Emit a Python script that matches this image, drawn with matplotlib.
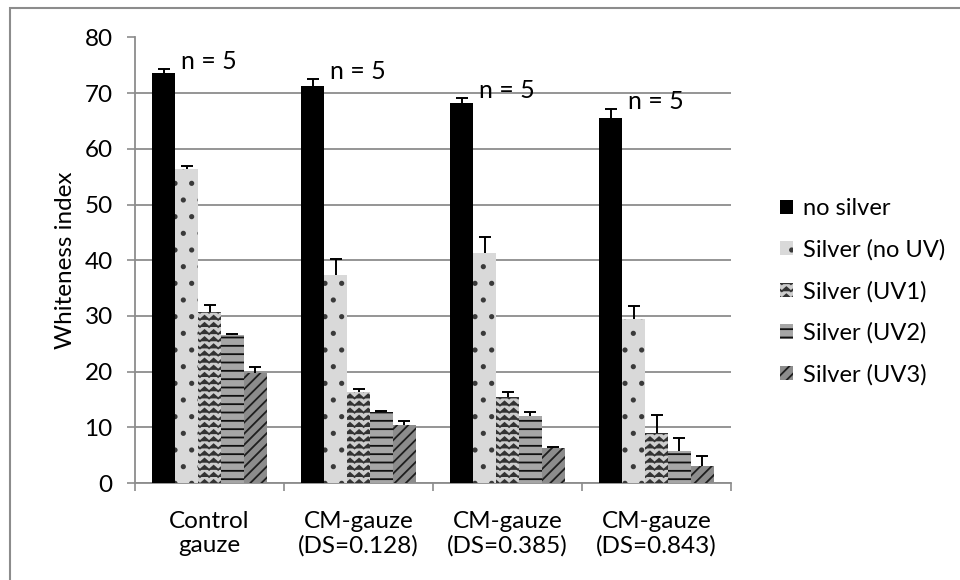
import warnings
import numpy as np
import matplotlib
matplotlib.use("Agg")
import matplotlib.pyplot as plt
from matplotlib import hatch as mhatch
from matplotlib.path import Path
from matplotlib.patches import Rectangle

warnings.filterwarnings("ignore")

# muestras
grupos = ["Control\ngauze", "CM-gauze\n(DS=0.128)", "CM-gauze\n(DS=0.385)", "CM-gauze\n(DS=0.843)"]
series = ["no silver", "Silver (no UV)", "Silver (UV1)", "Silver (UV2)", "Silver (UV3)"]

# indice de blancura (media) por serie, un valor por grupo
no_silver = [73.7, 71.3, 68.2, 65.5]
silver_no_uv = [56.4, 37.4, 41.3, 29.5]
silver_uv1 = [30.7, 16.3, 15.5, 9.0]
silver_uv2 = [26.5, 12.8, 12.0, 5.8]
silver_uv3 = [19.8, 10.5, 6.3, 3.1]

# desviacion (solo hacia arriba)
err_no_silver = [0.7, 1.2, 0.9, 1.7]
err_no_uv = [0.6, 2.8, 2.9, 2.3]
err_uv1 = [1.2, 0.6, 0.8, 3.3]
err_uv2 = [0.3, 0.2, 0.7, 2.2]
err_uv3 = [1.1, 0.7, 0.2, 1.8]

etiqueta_n = "n = 5"


# trama en zigzag para UV1 (no existe en matplotlib)
class ZigZagHatch(mhatch.HatchPatternBase):
    filas = 14
    periodos = 11
    amp = 0.02

    def __init__(self, hatch, density):
        self.num_rows = hatch.count('z') * self.filas
        self.num_vertices = self.num_rows * (2 * self.periodos + 1)

    def set_vertices_and_codes(self, vertices, codes):
        n = 2 * self.periodos + 1
        xs = np.linspace(0.0, 1.0, n)
        dy = np.where(np.arange(n) % 2 == 0, -self.amp, self.amp)
        for i in range(self.num_rows):
            y = (i + 0.5) / self.num_rows
            vertices[i * n:(i + 1) * n, 0] = xs
            vertices[i * n:(i + 1) * n, 1] = y + dy
            codes[i * n:(i + 1) * n] = Path.LINETO
            codes[i * n] = Path.MOVETO


mhatch._hatch_types.append(ZigZagHatch)

plt.rcParams['font.family'] = ['Lato', 'DejaVu Sans']
plt.rcParams['font.size'] = 17.5
plt.rcParams['hatch.linewidth'] = 1.3

medias = [no_silver, silver_no_uv, silver_uv1, silver_uv2, silver_uv3]
errores = [err_no_silver, err_no_uv, err_uv1, err_uv2, err_uv3]
fondos = ["#000000", "#d9d9d9", "#cdcdcd", "#a6a6a6", "#8c8c8c"]
tramas = [None, ".", "z", "--", "///"]
lineas = ["#000000", "#3a3a3a", "#333333", "#101010", "#1e1e1e"]

gris = "#8c8c8c"

fig = plt.figure(figsize=(9.6, 5.8), dpi=100)
ax = fig.add_axes([135 / 960, 1 - 483 / 580, 596 / 960, 445.5 / 580])

x = np.arange(len(grupos))
w = 0.154

for i in range(len(series)):
    pos = x + (i - 2) * w
    ax.bar(pos, medias[i], width=w, color=fondos[i], edgecolor=lineas[i],
           hatch=tramas[i], linewidth=0, label=series[i], zorder=3)
    eb = ax.errorbar(pos, medias[i], yerr=[np.zeros(len(grupos)), errores[i]], fmt='none',
                     ecolor='black', elinewidth=1.4, capsize=4.5, capthick=1.4, zorder=4)
    # solo el tope superior
    eb[1][0].set_visible(False)

# etiqueta n = 5 junto a la barra negra
for k in range(len(grupos)):
    ax.annotate(etiqueta_n, xy=(x[k] - 2 * w + w / 2, no_silver[k] + err_no_silver[k]),
                xytext=(4, 0), textcoords='offset points', ha='left', va='baseline',
                fontsize=18, zorder=5)

ax.set_ylim(0, 80)
ax.set_yticks(np.arange(0, 81, 10))
ax.set_xlim(-0.5, len(grupos) - 0.5)
ax.set_xticks(np.arange(-0.5, len(grupos), 1.0))
ax.set_xticklabels([])
ax.set_xticks(x, minor=True)
ax.set_xticklabels(grupos, minor=True)
ax.tick_params(axis='x', which='major', length=6, color=gris, width=1.2)
ax.tick_params(axis='x', which='minor', length=0, pad=20)
ax.tick_params(axis='y', length=6, color=gris, width=1.2, pad=10)

ax.grid(axis='y', color=gris, linewidth=1.3, zorder=0)
ax.set_axisbelow(True)
for lado in ['top', 'right']:
    ax.spines[lado].set_visible(False)
for lado in ['left', 'bottom']:
    ax.spines[lado].set_color(gris)
    ax.spines[lado].set_linewidth(1.3)

ax.set_ylabel("Whiteness index")
ax.yaxis.set_label_coords(-0.099, 0.5)

ax.legend(loc='center left', bbox_to_anchor=(768 / 960, 0.497), bbox_transform=fig.transFigure,
          frameon=False, handlelength=0.55, handleheight=0.55, handletextpad=0.45,
          labelspacing=0.85, borderpad=0, fontsize=17)

# borde del area del grafico
fig.patches.append(Rectangle((9.5 / 960, -0.05), 1.2, 1 - 8 / 580 + 0.05, transform=fig.transFigure,
                             fill=False, edgecolor=gris, linewidth=1.5))

fig.savefig("out.png", dpi=100)
